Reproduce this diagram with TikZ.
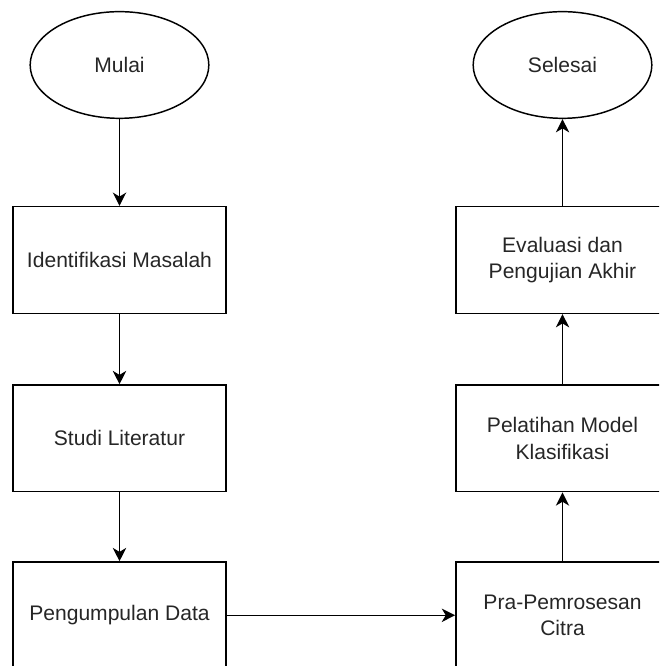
\documentclass[tikz,border=0pt]{standalone}
\usepackage{fontspec}
\setmainfont{Liberation Sans}
\usetikzlibrary{shapes.geometric,arrows.meta}

\begin{document}
\begin{tikzpicture}[x=0.75pt,y=0.75pt,
	proses/.style={draw,line width=1.1pt,rectangle,minimum width=160pt,minimum height=80pt,inner sep=0pt,align=center},
	terminal/.style={draw,line width=1.1pt,ellipse,minimum width=134pt,minimum height=80pt,inner sep=0pt},
	panah/.style={line width=1.1pt,-{Stealth[length=10pt,width=10pt,inset=3pt]}}]
	
	\useasboundingbox (0,0) rectangle (659,666);
	\clip (0,0) rectangle (659,666);
	\tikzset{every node/.style={font=\fontsize{15.8}{20}\selectfont,text=black!85}}

	% left column
	\node[terminal] (mulai) at (119.5,601) {Mulai};
	\node[proses] (identifikasi) at (119.5,406) {Identifikasi Masalah};
	\node[proses] (studi) at (119.5,227.7) {Studi Literatur};
	\node[proses] (pengumpulan) at (119.5,50.7) {Pengumpulan Data};

	% right column
	\node[proses] (pra) at (562.5,50.7) {Pra-Pemrosesan\\Citra};
	\node[proses] (pelatihan) at (562.5,227.7) {Pelatihan Model\\Klasifikasi};
	\node[proses] (evaluasi) at (562.5,406) {Evaluasi dan\\Pengujian Akhir};
	\node[terminal] (selesai) at (562.5,601) {Selesai};

	% arrows
	\draw[panah] (mulai) -- (identifikasi);
	\draw[panah] (identifikasi) -- (studi);
	\draw[panah] (studi) -- (pengumpulan);
	\draw[panah] (pengumpulan) -- (pra);
	\draw[panah] (pra) -- (pelatihan);
	\draw[panah] (pelatihan) -- (evaluasi);
	\draw[panah] (evaluasi) -- (selesai);

\end{tikzpicture}
\end{document}
